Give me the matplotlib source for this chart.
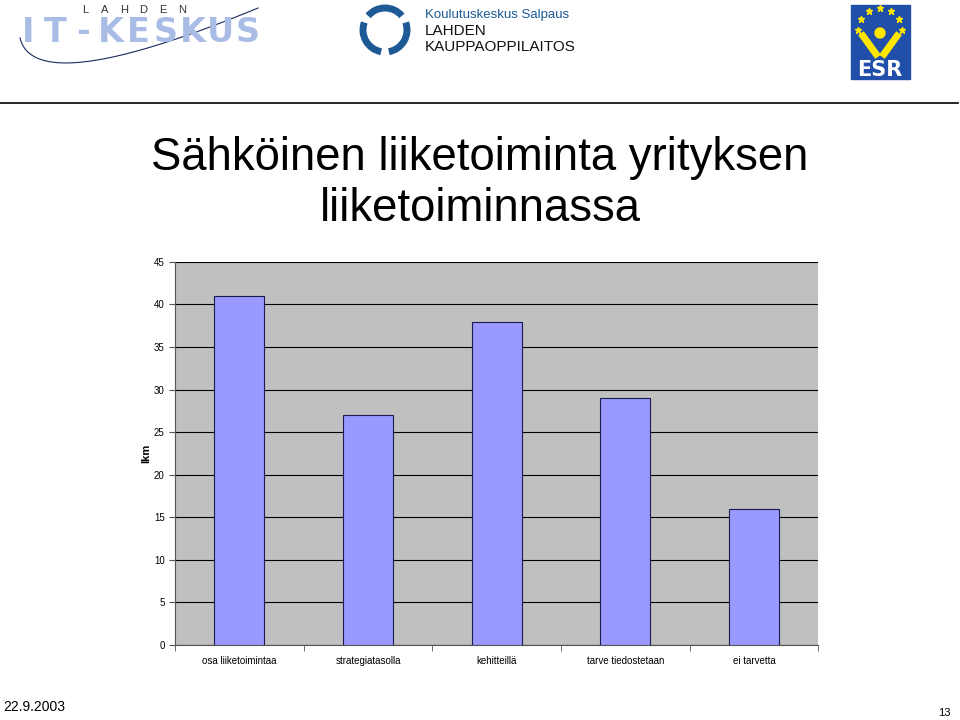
import numpy as np
import matplotlib.pyplot as plt
from matplotlib.patches import Rectangle, Arc, Circle

plt.rcParams['font.family'] = ['Liberation Sans', 'DejaVu Sans']

categories = ['osa liiketoimintaa', 'strategiatasolla', 'kehitteillä',
              'tarve tiedostetaan', 'ei tarvetta']
values = [41, 27, 38, 29, 16]
yticks = [0, 5, 10, 15, 20, 25, 30, 35, 40, 45]

fig = plt.figure(figsize=(9.6, 7.2), dpi=100)

# header: logos drawn roughly
hdr = fig.add_axes([0, 0, 1, 1], facecolor='none')
hdr.set_xlim(0, 960)
hdr.set_ylim(720, 0)
hdr.axis('off')
for i, ch in enumerate('LAHDEN'):
    hdr.text(85 + i * 19.5, 10, ch, fontsize=8, ha='center', va='center', color='#333333')
for i, ch in enumerate('IT-KESKUS'):
    hdr.text(28 + i * 27.5, 32, ch, fontsize=24, ha='center', va='center', color='#a9bce6',
             fontweight='bold', family='DejaVu Sans')
t = np.linspace(0.0, 1.0, 80)
p0, p1, p2 = np.array([20, 38]), np.array([35, 100]), np.array([258, 8])
curve = np.outer((1 - t)**2, p0) + np.outer(2 * t * (1 - t), p1) + np.outer(t**2, p2)
hdr.plot(curve[:, 0], curve[:, 1], color='#1a2a5a', lw=0.8)
# salpaus swirl
hdr.add_patch(Arc((385, 30), 44, 44, theta1=100, theta2=200, color='#1d5a96', lw=5))
hdr.add_patch(Arc((385, 30), 44, 44, theta1=220, theta2=320, color='#1d5a96', lw=5))
hdr.add_patch(Arc((385, 30), 44, 44, theta1=340, theta2=80, color='#1d5a96', lw=5))
fig.text(0.4425, 0.988, 'Koulutuskeskus Salpaus', fontsize=9.5, color='#1d5a96', ha='left', va='top')
fig.text(0.4425, 0.966, 'LAHDEN', fontsize=11, color='#111111', ha='left', va='top')
fig.text(0.4425, 0.944, 'KAUPPAOPPILAITOS', fontsize=11, color='#111111', ha='left', va='top')
# ESR
hdr.add_patch(Rectangle((851, 5), 59, 74, color='#1f4fa8'))
for a in np.linspace(0, np.pi, 7):
    hdr.plot(880 + 22 * np.cos(a), 30 - 22 * np.sin(a), marker='*', color='#ffe600', ms=5)
hdr.add_patch(Circle((880, 33), 5, color='#ffe600'))
hdr.plot([863, 876], [36, 54], color='#ffe600', lw=5)
hdr.plot([897, 884], [36, 54], color='#ffe600', lw=5)
hdr.text(880, 70, 'ESR', fontsize=15, fontweight='bold', color='white', ha='center', va='center',
         family='DejaVu Sans')
hdr.plot([0, 958], [103, 103], color='black', lw=1.2)

fig.text(0.5, 0.745, 'Sähköinen liiketoiminta yrityksen\nliiketoiminnassa', fontsize=32.8,
         ha='center', va='center', linespacing=1.2)

fig.text(0.003, 0.008, '22.9.2003', fontsize=10, ha='left', va='bottom')
fig.text(0.99, 0.003, '13', fontsize=8, ha='right', va='bottom')

ax = fig.add_axes([0.1823, 0.1042, 0.670, 0.532])
ax.set_facecolor('#c0c0c0')
x = np.arange(len(categories))
ax.bar(x, values, width=0.39, color='#9999ff', edgecolor='#1a1a50', linewidth=0.8, zorder=3)
ax.set_xlim(-0.5, len(categories) - 0.5)
ax.set_ylim(0, 45)
ax.set_yticks(yticks)
ax.yaxis.grid(True, color='black', lw=0.8, zorder=1)
ax.set_axisbelow(True)
ax.set_xticks(x)
ax.set_xticklabels(categories, fontsize=7)
ax.tick_params(axis='x', length=0, pad=8)
ax.set_xticks(np.arange(-0.5, len(categories)), minor=True)
ax.tick_params(axis='x', which='minor', length=4, direction='out', color='#555555')
ax.tick_params(axis='y', labelsize=7, length=4, direction='out', color='#555555')
for s in ['top', 'right']:
    ax.spines[s].set_visible(False)
ax.spines['left'].set_color('#555555')
ax.spines['bottom'].set_color('#555555')
ax.set_ylabel('lkm', fontsize=8, fontweight='bold', labelpad=2)

fig.savefig('out.png', dpi=100)
